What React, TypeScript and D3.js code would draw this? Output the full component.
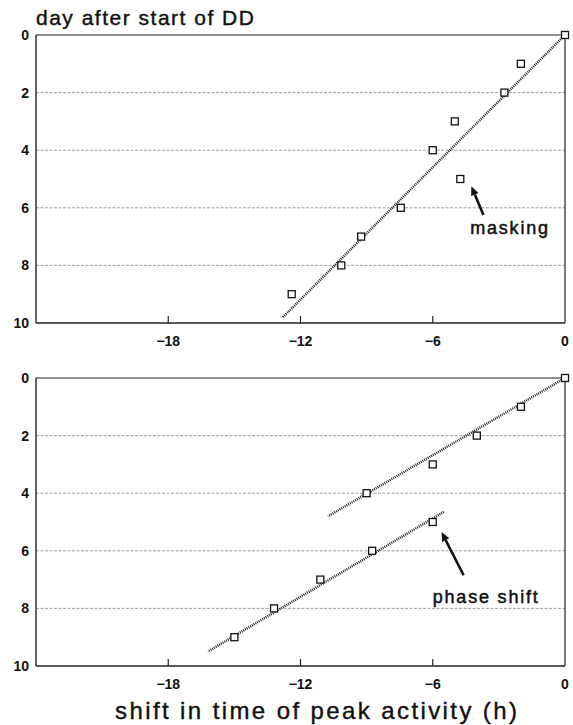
import * as d3 from 'd3';

// top panel: day after start of DD vs shift of activity peak (h)
const topDays = [0, 1, 2, 3, 4, 5, 6, 7, 8, 9];
const topShift = [0, -2, -2.75, -5, -6, -4.75, -7.45, -9.25, -10.15, -12.4];
// fitted line ends, [shift, day]
const topFit: [number, number][] = [[0, 0], [-12.8, 9.8]];

// bottom panel
const bottomDays = [0, 1, 2, 3, 4, 5, 6, 7, 8, 9];
const bottomShift = [0, -2, -4, -6, -9, -6, -8.75, -11.1, -13.2, -15];
const bottomFitA: [number, number][] = [[0, 0], [-10.75, 4.8]];
const bottomFitB: [number, number][] = [[-5.5, 4.65], [-16.2, 9.5]];

const xTicks = [-18, -12, -6, 0];
const yTicks = [0, 2, 4, 6, 8, 10];

const W = 573;
const H = 725;
const left = 36;
const right = 565;
const font = "'Liberation Sans', Arial, Helvetica, sans-serif";

type Note = { text: string; tx: number; ty: number; from: [number, number]; to: [number, number] };

function Panel({ top, days, shift, fits, note }: {
  top: number;
  days: number[];
  shift: number[];
  fits: [number, number][][];
  note: Note;
}) {
  const x = d3.scaleLinear().domain([-24, 0]).range([left, right]);
  const y = d3.scaleLinear().domain([0, 10]).range([top, top + 288]);
  const line = d3.line<[number, number]>().x((d) => x(d[0])).y((d) => y(d[1]));
  const s = 7;
  // arrow geometry in data units -> pixels
  const ax1 = x(note.from[0]), ay1 = y(note.from[1]);
  const ax2 = x(note.to[0]), ay2 = y(note.to[1]);
  const ang = Math.atan2(ay2 - ay1, ax2 - ax1);
  const hl = 9, hw = 4;
  const bx = ax2 - hl * Math.cos(ang), by = ay2 - hl * Math.sin(ang);
  const head = [
    [ax2, ay2],
    [bx + hw * Math.sin(ang), by - hw * Math.cos(ang)],
    [bx - hw * Math.sin(ang), by + hw * Math.cos(ang)],
  ].map((p) => p.join(',')).join(' ');

  return (
    <g>
      {/* grid lines */}
      {yTicks.filter((t) => t > 0 && t < 10).map((t) => (
        <line key={t} x1={left} x2={right} y1={y(t)} y2={y(t)}
          stroke="#888" strokeWidth={0.8} strokeDasharray="3 1.5" />
      ))}
      {/* frame */}
      <line x1={left} x2={right} y1={y(0)} y2={y(0)} stroke="#222" strokeWidth={1.2} />
      <line x1={left} x2={right} y1={y(10)} y2={y(10)} stroke="#222" strokeWidth={1.4} />
      <line x1={left} x2={left} y1={y(0)} y2={y(10)} stroke="#222" strokeWidth={1.4} />
      <line x1={right} x2={right} y1={y(0)} y2={y(10)} stroke="#222" strokeWidth={1.2} />
      {xTicks.filter((t) => t < 0).map((t) => (
        <line key={t} x1={x(t)} x2={x(t)} y1={y(10)} y2={y(10) - 7} stroke="#222" strokeWidth={1.2} />
      ))}
      {/* tick labels */}
      {yTicks.map((t) => (
        <text key={t} x={left - 7} y={y(t) + 5} textAnchor="end" fontSize={14}
          fontWeight="bold" fontFamily={font} fill="#111">{t}</text>
      ))}
      {xTicks.map((t) => (
        <text key={t} x={x(t)} y={y(10) + 23} textAnchor="middle" fontSize={14}
          fontWeight="bold" fontFamily={font} fill="#111">{t === 0 ? '0' : `\u2212${-t}`}</text>
      ))}
      {/* fitted lines */}
      {fits.map((f, i) => (
        <path key={i} d={line(f) ?? ''} fill="none" stroke="#222" strokeWidth={2.5}
          strokeDasharray="1 1" />
      ))}
      {/* points */}
      {days.map((d, i) => (
        <rect key={i} x={x(shift[i]) - s / 2} y={y(d) - s / 2} width={s} height={s}
          fill="white" stroke="#111" strokeWidth={1.3} />
      ))}
      {/* annotation */}
      <line x1={ax1} y1={ay1} x2={bx} y2={by} stroke="#111" strokeWidth={2.6} />
      <polygon points={head} fill="#111" />
      <text x={x(note.tx)} y={y(note.ty)} fontSize={18} fontFamily={font} fill="#111"
        stroke="#111" strokeWidth={0.5} letterSpacing={1.8}>{note.text}</text>
    </g>
  );
}

export default function App() {
  return (
    <svg width={W} height={H} style={{ position: 'absolute', left: 0, top: 0, background: 'white' }}>
      <text x={left} y={25} fontSize={21} fontFamily={font} fill="#111"
        stroke="#111" strokeWidth={0.4} letterSpacing={1.5}>day after start of DD</text>
      <Panel top={35} days={topDays} shift={topShift} fits={[topFit]}
        note={{ text: 'masking', tx: -4.3, ty: 6.9, from: [-3.7, 6.25], to: [-4.25, 5.25] }} />
      <Panel top={378} days={bottomDays} shift={bottomShift} fits={[bottomFitA, bottomFitB]}
        note={{ text: 'phase shift', tx: -6.0, ty: 7.82, from: [-4.6, 6.85], to: [-5.6, 5.35] }} />
      <text x={115} y={719} fontSize={24} fontFamily={font} fill="#111"
        stroke="#111" strokeWidth={0.4} letterSpacing={2.4}>shift in time of peak activity (h)</text>
    </svg>
  );
}
